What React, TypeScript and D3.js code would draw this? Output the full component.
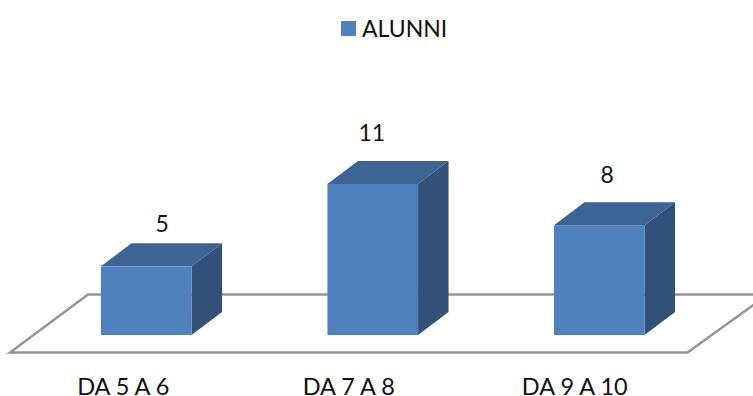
import React from "react";
import * as d3 from "d3";

const categories = ["DA 5 A 6", "DA 7 A 8", "DA 9 A 10"];
const alunni = [5, 11, 8];
const seriesName = "ALUNNI";

const WIDTH = 753;
const HEIGHT = 396;
const DEPTH_X = 30.5;
const DEPTH_Y = 23;
const BASE_Y = 335;
const FONT = "Lato, Carlito, 'Open Sans', sans-serif";

// Hand-placed nudges for the value and category captions, relative to each bar.
const valueNudge = [
  { dx: 16, dy: -34 },
  { dx: -1, dy: -43 },
  { dx: 8, dy: -42 },
];
const categoryNudge = [-23, -24, -24.5];

const x = d3
  .scaleBand<string>()
  .domain(categories)
  .range([33, 712.5])
  .paddingInner(0.6)
  .paddingOuter(0.3);

const y = d3.scaleLinear().domain([0, 11]).range([BASE_Y, BASE_Y - 151]);

function polygon(points: [number, number][]): string {
  const p = d3.path();
  points.forEach(([px, py], i) => (i === 0 ? p.moveTo(px, py) : p.lineTo(px, py)));
  p.closePath();
  return p.toString();
}

export default function App() {
  const floor = polygon([
    [10, 352.5],
    [687.5, 352.5],
    [768, 294.5],
    [88, 294.5],
  ]);

  return (
    <svg
      width={WIDTH}
      height={HEIGHT}
      viewBox={`0 0 ${WIDTH} ${HEIGHT}`}
      style={{ position: "absolute", left: 0, top: 0, background: "#fff" }}
      fontFamily={FONT}
    >
      <path d={floor} fill="#fff" stroke="#959595" strokeWidth={2.4} />

      {categories.map((c, i) => {
        const x0 = x(c)!;
        const x1 = x0 + x.bandwidth();
        const top = y(alunni[i]);
        return (
          <g key={c}>
            <path
              d={polygon([
                [x0, top],
                [x0 + DEPTH_X, top - DEPTH_Y],
                [x1 + DEPTH_X, top - DEPTH_Y],
                [x1, top],
              ])}
              fill="#3C6494"
            />
            <path
              d={polygon([
                [x1, top],
                [x1 + DEPTH_X, top - DEPTH_Y],
                [x1 + DEPTH_X, BASE_Y - DEPTH_Y],
                [x1, BASE_Y],
              ])}
              fill="#325279"
            />
            <rect x={x0} y={top} width={x.bandwidth()} height={BASE_Y - top} fill="#4F81BD" />
            <text
              x={(x0 + x1) / 2 + valueNudge[i].dx}
              y={top + valueNudge[i].dy}
              textAnchor="middle"
              fontSize={23}
              fill="#111"
            >
              {alunni[i]}
            </text>
            <text
              x={(x0 + x1) / 2 + categoryNudge[i]}
              y={395}
              textAnchor="middle"
              fontSize={23.5}
              fill="#111"
            >
              {c}
            </text>
          </g>
        );
      })}

      <rect x={341} y={21} width={15} height={15} fill="#4F81BD" />
      <text x={362} y={36.5} fontSize={23} fill="#111">
        {seriesName}
      </text>
    </svg>
  );
}
